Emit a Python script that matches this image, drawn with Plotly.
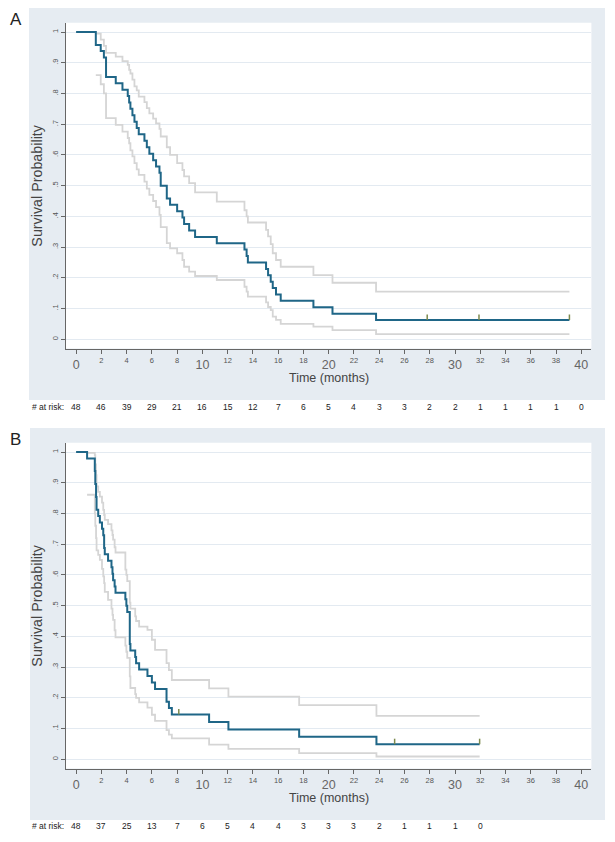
import plotly.graph_objects as go

# ---------------- Panel A data ----------------
a_time = [0, 1.56, 1.95, 2.2, 2.37, 3.14, 3.67, 4.09, 4.2, 4.3, 4.46, 4.62, 4.8, 4.96, 5.41, 5.6, 5.8,
          6.1, 6.33, 6.6, 6.7, 7.18, 7.44, 8.0, 8.42, 8.55, 8.95, 9.42, 11.14, 13.33, 13.5, 13.6,
          15.04, 15.2, 15.41, 15.57, 15.83, 16.2, 18.79, 20.3, 23.75, 39.06]
a_surv = [1.0, 0.958, 0.938, 0.917, 0.854, 0.833, 0.8125, 0.792, 0.771, 0.75, 0.729, 0.708, 0.688,
          0.667, 0.646, 0.625, 0.604, 0.583, 0.5625, 0.542, 0.5, 0.458, 0.4375, 0.417, 0.396, 0.375,
          0.354, 0.333, 0.3125, 0.292, 0.271, 0.25, 0.229, 0.208, 0.1875, 0.167, 0.146, 0.125, 0.104,
          0.083, 0.0625, 0.0625]
a_upper = [None, 0.995, 0.975, 0.955, 0.932, 0.92, 0.905, 0.893, 0.877, 0.865, 0.845, 0.823, 0.81,
           0.79, 0.772, 0.752, 0.735, 0.718, 0.703, 0.685, 0.66, 0.625, 0.6, 0.573, 0.551, 0.53,
           0.508, 0.478, 0.448, 0.42, 0.4, 0.38, 0.356, 0.335, 0.31, 0.28, 0.258, 0.236, 0.209,
           0.184, 0.155, 0.155]
a_lower = [None, 0.86, 0.83, 0.80, 0.72, 0.698, 0.676, 0.655, 0.638, 0.615, 0.595, 0.573, 0.553,
           0.535, 0.513, 0.49, 0.47, 0.45, 0.43, 0.405, 0.365, 0.313, 0.296, 0.28, 0.258, 0.236,
           0.22, 0.206, 0.193, 0.171, 0.155, 0.139, 0.12, 0.105, 0.095, 0.074, 0.063, 0.05, 0.041,
           0.03, 0.017, 0.017]
a_cens_time = [27.8, 31.9, 39.06]
a_cens_surv = [0.0625, 0.0625, 0.0625]
a_risk_time = list(range(0, 41, 2))
a_risk = [48, 46, 39, 29, 21, 16, 15, 12, 7, 6, 5, 4, 3, 3, 2, 2, 1, 1, 1, 1, 0]

# ---------------- Panel B data ----------------
b_time = [0, 0.87, 1.48, 1.52, 1.58, 1.62, 1.75, 1.88, 2.05, 2.15, 2.22, 2.27, 2.53, 2.8, 2.88,
          2.93, 3.05, 3.12, 3.9, 3.98, 4.05, 4.25, 4.3, 4.68, 4.75, 4.99, 5.65, 6.0, 6.25, 7.16,
          7.35, 7.58, 10.53, 12.06, 17.66, 23.78, 31.95]
b_surv = [1.0, 0.979, 0.938, 0.896, 0.854, 0.8125, 0.792, 0.771, 0.75, 0.729, 0.688, 0.667, 0.646,
          0.625, 0.604, 0.583, 0.5625, 0.542, 0.521, 0.5, 0.479, 0.375, 0.354, 0.333, 0.3125,
          0.292, 0.271, 0.25, 0.229, 0.1875, 0.167, 0.146, 0.1215, 0.097, 0.073, 0.049, 0.049]
b_upper = [None, 0.997, 0.99, 0.96, 0.925, 0.888, 0.87, 0.855, 0.835, 0.812, 0.795, 0.779, 0.765,
           0.745, 0.73, 0.715, 0.69, 0.673, 0.617, 0.6, 0.58, 0.51, 0.49, 0.465, 0.45, 0.432,
           0.421, 0.389, 0.356, 0.313, 0.29, 0.258, 0.231, 0.204, 0.176, 0.141, 0.141]
b_lower = [None, 0.861, 0.8, 0.76, 0.72, 0.68, 0.665, 0.649, 0.62, 0.595, 0.573, 0.545, 0.519,
           0.49, 0.47, 0.454, 0.42, 0.397, 0.37, 0.35, 0.33, 0.27, 0.232, 0.212, 0.2, 0.185,
           0.168, 0.145, 0.125, 0.095, 0.08, 0.068, 0.048, 0.034, 0.02, 0.009, 0.009]
b_cens_time = [8.13, 25.22, 31.95]
b_cens_surv = [0.146, 0.049, 0.049]
b_risk_time = list(range(0, 33, 2))
b_risk = [48, 37, 25, 13, 7, 6, 5, 4, 4, 3, 3, 3, 2, 1, 1, 1, 0]

# ---------------- axis labels ----------------
y_ticks = [0, 0.1, 0.2, 0.3, 0.4, 0.5, 0.6, 0.7, 0.8, 0.9, 1.0]
y_labels = ["0", ".1", ".2", ".3", ".4", ".5", ".6", ".7", ".8", ".9", "1"]
x_minor = list(range(0, 41, 2))
x_major = [0, 10, 20, 30, 40]

FONT = "Liberation Sans, Arial, sans-serif"
MAIN = "#1f6687"
CI = "#d5d5d5"
CENS = "#7d8a4e"
AXIS = "#666666"
GRID = "#e3eaf1"
BG = "#e6ecf2"
TICK = "#555555"

# the page adds an 8px body margin, so the figure is 8px smaller and positions are offset
OFF = 8
W, H = 615 - OFF, 842 - OFF


def PX(px):
    return (px - OFF) / W


def PY(py):
    return 1 - (py - OFF) / H


XDOM = [PX(66), PX(591.4)]
A_DOM = [PY(348.5), PY(22.8)]
B_DOM = [PY(768.5), PY(442.8)]
XR = [-0.8, 40.8]
YR = [-0.03, 1.03]

fig = go.Figure()


def add_panel(xa, xo, ya, t, s, lo, up, ct, cs):
    fig.add_trace(go.Scatter(x=t, y=up, mode="lines", line=dict(color=CI, width=1.8, shape="hv"),
                             xaxis=xa, yaxis=ya, hoverinfo="skip", showlegend=False))
    fig.add_trace(go.Scatter(x=t, y=lo, mode="lines", line=dict(color=CI, width=1.8, shape="hv"),
                             xaxis=xa, yaxis=ya, hoverinfo="skip", showlegend=False))
    fig.add_trace(go.Scatter(x=t, y=s, mode="lines", line=dict(color=MAIN, width=2, shape="hv"),
                             xaxis=xa, yaxis=ya, showlegend=False))
    fig.add_trace(go.Scatter(x=ct, y=cs, mode="markers", marker=dict(size=1, color=CENS, opacity=0),
                             error_y=dict(type="data", symmetric=False, array=[0.018] * len(ct),
                                          arrayminus=[0] * len(ct), width=0, thickness=1.5, color=CENS),
                             xaxis=xa, yaxis=ya, hoverinfo="skip", showlegend=False))
    # invisible trace so the overlay axis carrying the large labels is drawn
    fig.add_trace(go.Scatter(x=[t[0]], y=[s[0]], mode="markers", marker=dict(size=1, opacity=0),
                             xaxis=xo, yaxis=ya, hoverinfo="skip", showlegend=False))


add_panel("x", "x3", "y", a_time, a_surv, a_lower, a_upper, a_cens_time, a_cens_surv)
add_panel("x2", "x4", "y2", b_time, b_surv, b_lower, b_upper, b_cens_time, b_cens_surv)

xminor_text = ["" if v % 10 == 0 else str(v) for v in x_minor]
xbase = dict(range=XR, domain=XDOM, tickvals=x_minor, ticktext=xminor_text, ticks="outside",
             ticklen=4, tickwidth=1, tickcolor=AXIS, showline=True, linecolor=AXIS, linewidth=1.3,
             showgrid=False, zeroline=False, tickfont=dict(size=7.5, color=TICK, family=FONT))
xover = dict(range=XR, domain=XDOM, tickvals=x_major, ticktext=[str(v) for v in x_major],
             ticks="outside", ticklen=4, tickwidth=1, tickcolor=AXIS, showline=False,
             showgrid=False, zeroline=False, side="bottom",
             tickfont=dict(size=12.5, color="#666666", family=FONT))
ybase = dict(range=YR, tickvals=y_ticks, ticktext=y_labels, tickangle=-90, ticks="outside",
             ticklen=4, tickwidth=1, tickcolor=AXIS, showline=True, linecolor=AXIS, linewidth=1.3,
             showgrid=True, gridcolor=GRID, gridwidth=1, zeroline=False,
             tickfont=dict(size=7.5, color=TICK, family=FONT))

fig.update_layout(
    width=W, height=H, margin=dict(l=0, r=0, t=0, b=0),
    paper_bgcolor="white", plot_bgcolor="white", showlegend=False,
    font=dict(family=FONT, color="#333333"),
    xaxis=dict(**xbase, anchor="y"),
    yaxis=dict(**ybase, domain=A_DOM, anchor="x"),
    xaxis2=dict(**xbase, anchor="y2"),
    yaxis2=dict(**ybase, domain=B_DOM, anchor="x2"),
    xaxis3=dict(**xover, overlaying="x", anchor="y"),
    xaxis4=dict(**xover, overlaying="x2", anchor="y2"),
)

shapes = []
for (x0, x1, y0, y1), dom in [((29, 605, 400, 8), A_DOM), ((30, 605, 820, 428), B_DOM)]:
    shapes.append(dict(type="rect", xref="paper", yref="paper", x0=PX(x0), x1=PX(x1),
                       y0=PY(y0), y1=PY(y1), fillcolor=BG, line=dict(width=0), layer="below"))
    shapes.append(dict(type="rect", xref="paper", yref="paper", x0=XDOM[0], x1=XDOM[1],
                       y0=dom[0], y1=dom[1], fillcolor="white", line=dict(width=0), layer="below"))
fig.update_layout(shapes=shapes)

ann = []
# panel letters
for letter, ypx in [("A", 19.5), ("B", 439.5)]:
    ann.append(dict(text=letter, x=PX(8), y=PY(ypx), xref="paper", yref="paper", xanchor="left",
                    yanchor="middle", showarrow=False, font=dict(size=17, color="#222222", family=FONT)))
# axis titles
for ydom, xtitle_px in [(A_DOM, 378), (B_DOM, 798)]:
    ann.append(dict(text="Survival Probability", x=PX(37), y=(ydom[0] + ydom[1]) / 2, xref="paper",
                    yref="paper", textangle=-90, xanchor="center", yanchor="middle", showarrow=False,
                    font=dict(size=14.3, color="#444444", family=FONT)))
    ann.append(dict(text="Time (months)", x=(XDOM[0] + XDOM[1]) / 2, y=PY(xtitle_px), xref="paper",
                    yref="paper", xanchor="center", yanchor="middle", showarrow=False,
                    font=dict(size=12.5, color="#444444", family=FONT)))
# at-risk rows
for xr, risk_t, risk_v, ypx in [("x", a_risk_time, a_risk, 406.5), ("x2", b_risk_time, b_risk, 826)]:
    ann.append(dict(text="# at risk:", x=PX(65.5), y=PY(ypx), xref="paper", yref="paper",
                    xanchor="right", yanchor="middle", showarrow=False,
                    font=dict(size=8.5, color="#222222", family=FONT)))
    for t, v in zip(risk_t, risk_v):
        ann.append(dict(text=str(v), x=t, y=PY(ypx), xref=xr, yref="paper", xanchor="center",
                        yanchor="middle", showarrow=False,
                        font=dict(size=8.5, color="#222222", family=FONT)))
fig.update_layout(annotations=ann)

fig.write_html("out.html")
